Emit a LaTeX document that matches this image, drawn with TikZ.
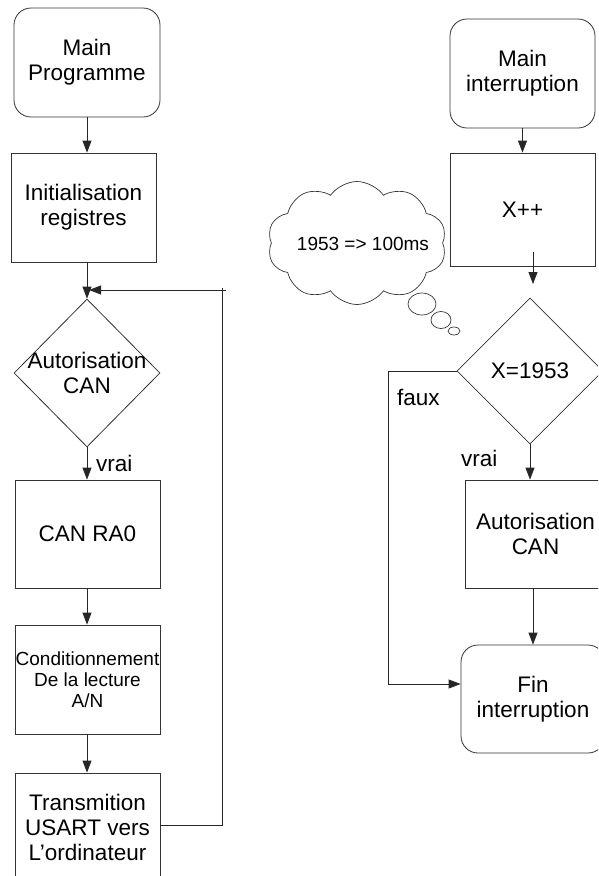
\documentclass[tikz,border=0pt]{standalone}
\usepackage{fontspec}
\setmainfont{Liberation Sans}
\usetikzlibrary{arrows.meta,shapes.geometric,shapes.symbols}
\begin{document}
\begin{tikzpicture}[x=1pt,y=-1pt,
  line/.style={draw=black!85, line width=0.8pt},
  arr/.style={line, -{Triangle[length=12pt,width=9pt]}},
  big/.style={font=\fontsize{22.5}{25}\selectfont},
  small/.style={font=\fontsize{19}{21}\selectfont},
  box/.style={rectangle, draw=black!80, line width=0.8pt, fill=white,
              inner sep=0pt, align=center, big},
  rbox/.style={box, rounded corners=17pt},
  decision/.style={diamond, draw=black!80, line width=0.8pt, fill=white,
                   inner sep=0pt},
  lbl/.style={align=center, big, inner sep=0pt},
  bubble/.style={ellipse, draw=black!80, line width=0.7pt, fill=white, inner sep=0pt}
]
\useasboundingbox (0,0) rectangle (598,876);
\clip (0,0) rectangle (598,876);

% ---------- main programme ----------
\node[rbox, minimum width=146pt, minimum height=109pt] (mainp) at (87,62.5) {Main\\Programme};
\node[box, minimum width=145pt, minimum height=109pt] (init) at (83.5,207.5) {Initialisation\\registres};
\node[decision, minimum width=146pt, minimum height=148pt,
      label={[lbl]center:Autorisation\\CAN}] (dia) at (87,373) {};
\node[box, minimum width=145pt, minimum height=108pt] (can) at (87.5,534) {CAN RA0};
\node[box, small, minimum width=145pt, minimum height=109pt] (cond) at (87.5,679.5) {Conditionnement\\De la lecture\\A/N};
\node[box, minimum width=145pt, minimum height=109pt] (trans) at (87.5,827.5) {Transmition\\USART vers\\L'ordinateur};

\draw[arr] (mainp.south) -- (mainp.south |- init.north);
\draw[arr] (dia.north |- init.south) -- (dia.north);
\draw[arr] (dia.south) -- (dia.south |- can.north);
\node[lbl, anchor=west] (vraiA) at (96,463) {vrai};
\draw[arr] (dia.south |- can.south) -- (dia.south |- cond.north);
\draw[arr] (dia.south |- cond.south) -- (dia.south |- trans.north);

% loop back to the test
\coordinate (lpBot) at (222,825);
\coordinate (lpTop) at (222,288);
\coordinate (lpEnd) at (226,290);
\coordinate (loopIn) at (89,290);
\draw[line] (lpBot -| trans.east) -- (lpBot) -- (lpTop);
\draw[arr] (lpEnd) -- (loopIn);

% ---------- interrupt routine ----------
\node[rbox, minimum width=145pt, minimum height=109pt] (mainint) at (522.5,73.5) {Main\\interruption};
\node[box, minimum width=145pt, minimum height=113pt] (xpp) at (522.5,209.5) {X++};
\node[decision, minimum width=146pt, minimum height=146pt,
      label={[lbl]center:X=1953}] (dia2) at (530,371) {};
\node[box, minimum width=141pt, minimum height=108pt] (auto) at (535.5,534) {Autorisation\\CAN};
\node[rbox, minimum width=144pt, minimum height=108pt] (fin) at (533,699) {Fin\\interruption};

\draw[arr] (mainint.south) -- (mainint.south |- xpp.north);
\coordinate (xa) at (533,252);
\coordinate (xb) at (533,284);
\draw[arr] (xa) -- (xb);
\draw[arr] (dia2.south) -- (dia2.south |- auto.north);
\node[lbl, anchor=west] (vraiB) at (461,458) {vrai};
\coordinate (auA) at (533,588);
\draw[arr] (auA) -- (auA |- fin.north);
\coordinate (fauxc) at (388,684);
\draw[line] (dia2.west) -| (fauxc);
\draw[arr] (fauxc) -- (fauxc -| fin.west);
\node[lbl, anchor=west] (faux) at (397,397) {faux};

% ---------- thought cloud ----------
\node[cloud, cloud puffs=10, cloud puff arc=110, cloud ignores aspect,
      draw=black!80, line width=0.7pt, fill=white, inner sep=0pt,
      minimum width=179pt, minimum height=123pt] (cloud) at (357,243) {};
\node[small, inner sep=0pt] (cloudtxt) at (363,244) {1953 => 100ms};
\node[bubble, minimum width=28pt, minimum height=22pt] (b1) at (422,304) {};
\node[bubble, minimum width=20pt, minimum height=17pt] (b2) at (441,320) {};
\node[bubble, minimum width=12pt, minimum height=8pt] (b3) at (454,331) {};
\end{tikzpicture}
\end{document}
